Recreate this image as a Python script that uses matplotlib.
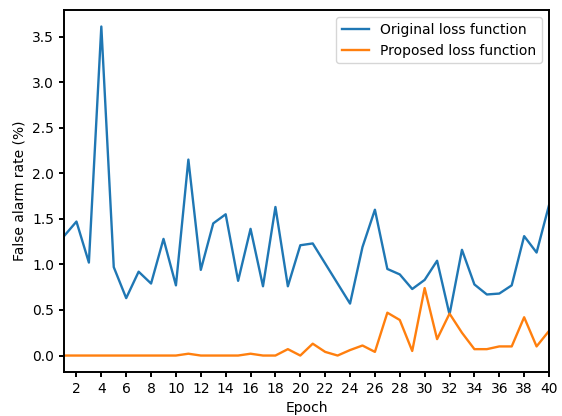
import matplotlib
matplotlib.use("Agg")
from matplotlib import pyplot as plt

# 数据
epochs = list(range(1, 41))
original_loss = [1.31, 1.47, 1.02, 3.61, 0.97, 0.63, 0.92, 0.79, 1.28, 0.77,
                 2.15, 0.94, 1.45, 1.55, 0.82, 1.39, 0.76, 1.63, 0.76, 1.21,
                 1.23, 1.01, 0.79, 0.57, 1.19, 1.60, 0.95, 0.89, 0.73, 0.83,
                 1.04, 0.45, 1.16, 0.78, 0.67, 0.68, 0.77, 1.31, 1.13, 1.65]
proposed_loss = [0, 0, 0, 0, 0, 0, 0, 0, 0, 0,
                 0.02, 0, 0, 0, 0, 0.02, 0, 0, 0.07, 0,
                 0.13, 0.04, 0, 0.06, 0.11, 0.04, 0.47, 0.39, 0.05, 0.74,
                 0.18, 0.46, 0.25, 0.07, 0.07, 0.10, 0.10, 0.42, 0.10, 0.27]

# 边框和刻度稍粗一些
plt.rcParams["axes.linewidth"] = 1.4
plt.rcParams["xtick.major.width"] = 1.4
plt.rcParams["ytick.major.width"] = 1.4

fig = plt.figure(figsize=(5.62, 4.16), dpi=100)
ax = fig.add_axes([0.1139, 0.1058, 0.863, 0.870])

ax.plot(epochs, original_loss, lw=1.7, label="Original loss function")
ax.plot(epochs, proposed_loss, lw=1.7, label="Proposed loss function")

ax.set_xlim(1, 40)
ax.set_xticks(range(2, 41, 2))
ax.set_xlabel("Epoch")
ax.set_ylabel("False alarm rate (%)")
ax.legend(loc="upper right")

fig.savefig("out.png")
